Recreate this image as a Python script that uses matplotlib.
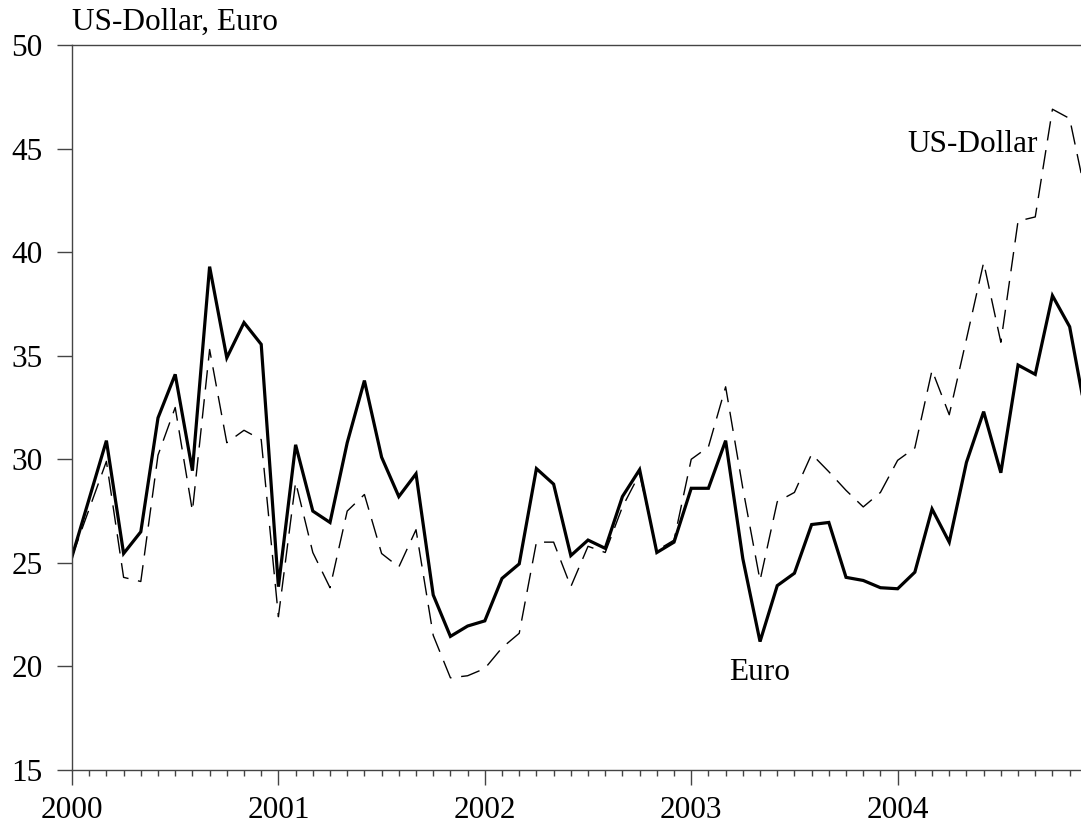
import matplotlib
matplotlib.use("Agg")
import matplotlib.pyplot as plt
from matplotlib.ticker import MultipleLocator, FixedLocator

# Monthly data, Jan 2000 - Dec 2004
start_year = 2000
euro = [25.3, 28.1, 30.9, 25.45, 26.5, 32.0, 34.1, 29.45, 39.3, 34.9, 36.6, 35.55,
        23.85, 30.7, 27.5, 26.95, 30.8, 33.8, 30.1, 28.2, 29.3, 23.45, 21.45, 21.95,
        22.2, 24.25, 24.95, 29.55, 28.8, 25.35, 26.1, 25.7, 28.2, 29.5, 25.5, 26.0,
        28.6, 28.6, 30.9, 25.2, 21.2, 23.9, 24.5, 26.85, 26.95, 24.3, 24.15, 23.8,
        23.75, 24.55, 27.6, 26.0, 29.85, 32.3, 29.35, 34.55, 34.1, 37.9, 36.4, 31.9]
usd = [25.3, 27.6, 29.9, 24.3, 24.1, 30.2, 32.5, 27.5, 35.3, 30.8, 31.4, 30.95,
       22.4, 28.9, 25.5, 23.8, 27.5, 28.3, 25.45, 24.8, 26.6, 21.5, 19.45, 19.55,
       19.9, 20.9, 21.6, 26.0, 26.0, 23.85, 25.8, 25.5, 27.7, 29.3, 25.6, 26.1,
       30.0, 30.6, 33.5, 28.6, 24.15, 27.95, 28.4, 30.25, 29.4, 28.5, 27.7, 28.4,
       29.95, 30.55, 34.3, 32.15, 35.8, 39.5, 35.65, 41.5, 41.7, 46.9, 46.45, 42.5]
year_ticks = [2000, 2001, 2002, 2003, 2004]
y_ticks = [15, 20, 25, 30, 35, 40, 45, 50]
title_text = "US-Dollar, Euro"
label_usd = "US-Dollar"
label_euro = "Euro"

x = [start_year + i / 12 for i in range(len(euro))]

plt.rcParams['font.family'] = ['Liberation Serif', 'DejaVu Serif']
FS = 22.5
W, H = 1081, 825
fig = plt.figure(figsize=(W / 100, H / 100), dpi=100)
ax = fig.add_axes([72 / W, 1 - 770 / H, 1 - 72 / W, (770 - 45) / H])

ax.plot(x, usd, color='black', lw=1.0, dashes=(14, 7), solid_capstyle='butt')
ax.plot(x, euro, color='black', lw=2.3, solid_joinstyle='miter')

ax.set_xlim(2000, 2000 + 58.66 / 12)
ax.set_ylim(15, 50)

ax.xaxis.set_major_locator(FixedLocator(year_ticks))
ax.xaxis.set_minor_locator(MultipleLocator(1 / 12))
ax.set_xticks(year_ticks)
ax.set_xticklabels([str(y) for y in year_ticks])
ax.set_yticks(y_ticks)

axis_col = '#444444'
for s in ['left', 'bottom', 'top']:
    ax.spines[s].set_color(axis_col)
    ax.spines[s].set_linewidth(1.0)
ax.spines['right'].set_visible(False)

ax.tick_params(axis='x', which='major', direction='out', length=11, width=1.0,
               color=axis_col, labelsize=FS, pad=8)
ax.tick_params(axis='x', which='minor', direction='out', length=4.5, width=1.0,
               color=axis_col)
ax.tick_params(axis='y', which='major', direction='out', length=11, width=1.0,
               color=axis_col, labelsize=FS, pad=10)

fig.text(72 / W, 1 - 22 / H, title_text, fontsize=FS, ha='left', va='center')
ax.text(2004.365, 45.2, label_usd, fontsize=FS, ha='center', va='center')
ax.text(2003.333, 19.7, label_euro, fontsize=FS, ha='center', va='center')

fig.savefig('out.png', dpi=100)
